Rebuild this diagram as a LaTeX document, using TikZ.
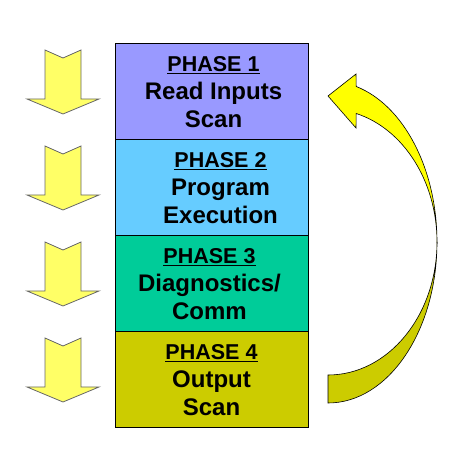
\documentclass[tikz,border=0pt]{standalone}
\usepackage{fontspec}
\setmainfont{Liberation Sans}
\usepackage{tikz}
\usetikzlibrary{positioning}

\definecolor{phaseone}{HTML}{9999FF}
\definecolor{phasetwo}{HTML}{66CCFF}
\definecolor{phasethree}{HTML}{00CC99}
\definecolor{phasefour}{HTML}{CCCC00}
\definecolor{arrowfill}{HTML}{FFFF66}
\definecolor{loopfill}{HTML}{FFFF00}

\newcommand{\ulined}[1]{\setbox0\hbox{#1}\rlap{\vrule height -1.5pt depth 3pt width \wd0}\box0}

\begin{document}
\begin{tikzpicture}[x=1pt, y=1pt, node distance=96pt]
    \tikzstyle{phase} = [rectangle, draw=black, line width=1pt, outer sep=0pt, minimum width=193pt, minimum height=96pt]
    \tikzstyle{phasetext} = [align=center, font=\fontsize{24}{28}\selectfont\bfseries]
    \tikzstyle{downarrow} = [fill=arrowfill, draw=black!60, line width=0.8pt, line join=miter]
    \tikzstyle{looparrow} = [draw=black, line width=0.6pt, line join=miter]

    \useasboundingbox (0,0) rectangle (459,466);

    % Phases
    \node [phase, fill=phaseone] (p1) at (211.5,374) {};
    \node [phase, fill=phasetwo, below of=p1] (p2) {};
    \node [phase, fill=phasethree, below of=p2] (p3) {};
    \node [phase, fill=phasefour, below of=p3] (p4) {};

    % Phase texts
    \node [phasetext, xshift=2pt] (t1) at (p1) {{\fontsize{21.5}{28}\selectfont\ulined{PHASE 1}}\\Read Inputs\\Scan};
    \node [phasetext, xshift=9pt] (t2) at (p2) {{\fontsize{21.5}{28}\selectfont\ulined{PHASE 2}}\\Program\\Execution};
    \node [phasetext, xshift=-2pt] (t3) at (p3) {{\fontsize{21.5}{28}\selectfont\ulined{PHASE 3}}\\Diagnostics/\\Comm};
    \node [phasetext] (t4) at (p4) {{\fontsize{21.5}{28}\selectfont\ulined{PHASE 4}}\\Output\\Scan};

    % Scan arrows
    \foreach \y in {416,320,224,128}
        \draw [downarrow] (45,\y) -- (63,\y-8) -- (81,\y) -- (81,\y-49) -- (99,\y-49)
            -- (63,\y-64) -- (27,\y-49) -- (45,\y-49) -- cycle;

    % Loop back
    \filldraw [looparrow, fill=phasefour] (437,224)
        arc [start angle=0, end angle=-90, x radius=109pt, y radius=161pt] -- (328,91)
        arc [start angle=-90, end angle=0, x radius=109pt, y radius=133pt] -- cycle;
    \filldraw [looparrow, fill=loopfill] (437,224)
        arc [start angle=0, end angle=75, x radius=109pt, y radius=161pt]
        -- (356,392) -- (328,370) -- (356,338) -- (356.2,352.5)
        arc [start angle=75, end angle=0, x radius=109pt, y radius=133pt] -- cycle;
\end{tikzpicture}
\end{document}
